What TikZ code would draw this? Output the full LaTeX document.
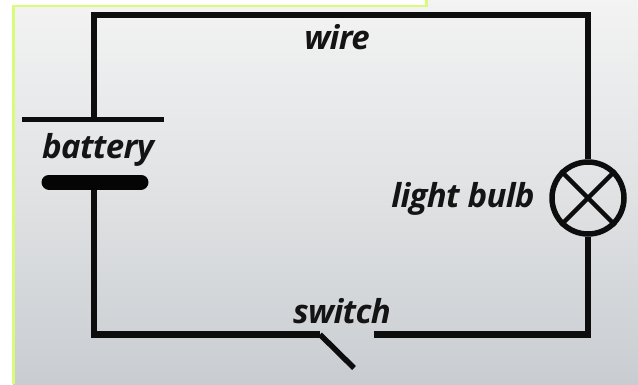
\documentclass[tikz,border=0pt]{standalone}
\usepackage{fontspec}
\setmainfont{Open Sans}[LetterSpace=-2]
\definecolor{lime}{HTML}{D8FB7A}
\definecolor{bgtop}{HTML}{F3F3F3}
\definecolor{bgbot}{HTML}{C9CDD1}
\tikzset{
  wire/.style={line width=6.5pt,draw=black!95,line cap=butt,line join=miter},
  lbl/.style={font=\fontsize{33}{36}\selectfont\bfseries\itshape,text=black!92,inner sep=0pt,anchor=base}
}
\begin{document}
\begin{tikzpicture}[x=1pt,y=-1pt]
\useasboundingbox (0,0) rectangle (638,384);
\fill[white] (0,0) rectangle (638,384);
\shade[top color=bgtop,bottom color=bgbot,middle color=bgtop!55!bgbot] (13,0) rectangle (638,384);
\fill[white] (0,0) rectangle (13,384);
\fill[white] (13,0) rectangle (426,6);
\draw[lime,line width=2.2pt] (426.5,0) -- (426.5,6) -- (13.5,6) -- (13.5,384);
% nodes
\coordinate (batTop) at (94,119);
\coordinate (batBot) at (94,182);
\coordinate (tl) at (94,15);
\coordinate (tr) at (588,15);
\coordinate (br) at (588,334.5);
\coordinate (bl) at (94,334.5);
\coordinate (swA) at (320,334.5);
\coordinate (swB) at (354,368);
\coordinate (swC) at (374,334.5);
\node[circle,draw=black!95,line width=5.5pt,minimum size=72pt,inner sep=0pt] (bulb) at (588,198) {};
% wires
\draw[wire] (batTop) -- (tl) -- (tr) -- (bulb.north);
\draw[wire] (bulb.south) -- (br) -- (swC);
\draw[wire] (batBot) -- (bl) -- (swA);
\draw[wire,line width=5.5pt] (swA) -- (swB);
\draw[black!95,line width=4.5pt] (bulb.north west) -- (bulb.south east);
\draw[black!95,line width=4.5pt] (bulb.north east) -- (bulb.south west);
% battery plates
\coordinate (p1) at (22,119.5);
\coordinate (p2) at (164,119.5);
\coordinate (n1) at (49,182);
\coordinate (n2) at (141,182);
\draw[black!95,line width=5.5pt] (p1) -- (p2);
\draw[black!98,line width=15pt,line cap=round] (n1) -- (n2);
% labels
\node[lbl] (wire) at (337,49) {wire};
\node[lbl] (battery) at (98,158) {battery};
\node[lbl] (bulbt) at (463,207) {light bulb};
\node[lbl] (switch) at (342,323) {switch};
\end{tikzpicture}
\end{document}
